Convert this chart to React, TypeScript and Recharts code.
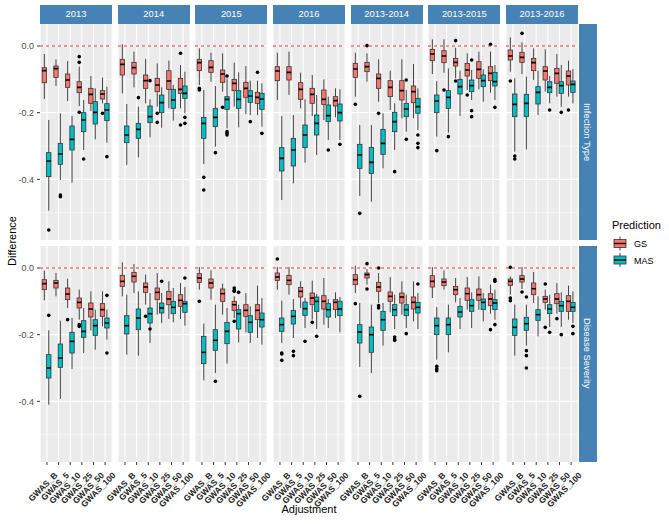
import React from 'react';
import { ComposedChart, Bar, XAxis, YAxis, CartesianGrid, ReferenceLine } from 'recharts';

// each box: [lower whisker, q1, median, q3, upper whisker]
type Box = [number, number, number, number, number];

const adjustments = ['GWAS_B', 'GWAS_5', 'GWAS_10', 'GWAS_25', 'GWAS_50', 'GWAS_100'];
const periods = ['2013', '2014', '2015', '2016', '2013-2014', '2013-2015', '2013-2016'];
const traits = ['Infection Type', 'Disease Severity'];
const yTicks = [-0.4, -0.2, 0];
const yMinor = [-0.1, -0.3, -0.5];

// ---- Infection Type ----
const itGS2013: Box[] = [[-0.159, -0.11, -0.074, -0.065, -0.024], [-0.12, -0.094, -0.068, -0.06, -0.04], [-0.165, -0.124, -0.102, -0.084, -0.045], [-0.18, -0.14, -0.124, -0.107, -0.062], [-0.195, -0.172, -0.145, -0.127, -0.09], [-0.172, -0.159, -0.144, -0.134, -0.095]];
const itGS2013Out = [[], [], [], [-0.032, -0.049, -0.199], [], [-0.202]];
const itMAS2013: Box[] = [[-0.494, -0.392, -0.345, -0.32, -0.222], [-0.402, -0.355, -0.324, -0.292, -0.202], [-0.41, -0.312, -0.28, -0.24, -0.21], [-0.312, -0.257, -0.222, -0.2, -0.162], [-0.28, -0.234, -0.199, -0.167, -0.127], [-0.29, -0.224, -0.192, -0.173, -0.122]];
const itMAS2013Out = [[-0.552], [-0.447, -0.452], [], [-0.339], [], [-0.332]];

const itGS2014: Box[] = [[-0.142, -0.087, -0.055, -0.04, 0.005], [-0.124, -0.084, -0.065, -0.049, -0.017], [-0.172, -0.127, -0.104, -0.087, -0.039], [-0.182, -0.137, -0.117, -0.097, -0.052], [-0.187, -0.13, -0.105, -0.074, -0.044], [-0.187, -0.142, -0.13, -0.097, -0.057]];
const itGS2014Out = [[], [], [], [-0.202, -0.229], [], [-0.022, -0.237]];
const itMAS2014: Box[] = [[-0.357, -0.29, -0.267, -0.24, -0.174], [-0.334, -0.277, -0.25, -0.232, -0.182], [-0.274, -0.23, -0.212, -0.18, -0.16], [-0.245, -0.2, -0.17, -0.147, -0.124], [-0.224, -0.187, -0.162, -0.13, -0.117], [-0.202, -0.157, -0.142, -0.12, -0.077]];
const itMAS2014Out = [[], [-0.155], [-0.104], [], [], [-0.214, -0.232]];

const itGS2015: Box[] = [[-0.117, -0.074, -0.05, -0.04, -0.007], [-0.107, -0.079, -0.064, -0.044, -0.02], [-0.137, -0.109, -0.084, -0.072, -0.022], [-0.182, -0.134, -0.112, -0.1, -0.05], [-0.204, -0.154, -0.127, -0.109, -0.06], [-0.207, -0.172, -0.154, -0.139, -0.104]];
const itGS2015Out = [[-0.127, -0.132], [], [-0.184], [], [], [-0.079]];
const itMAS2015: Box[] = [[-0.354, -0.277, -0.232, -0.214, -0.132], [-0.302, -0.242, -0.214, -0.187, -0.12], [-0.247, -0.19, -0.16, -0.152, -0.097], [-0.244, -0.187, -0.16, -0.134, -0.079], [-0.207, -0.169, -0.15, -0.134, -0.104], [-0.242, -0.19, -0.159, -0.142, -0.112]];
const itMAS2015Out = [[-0.394, -0.432], [-0.32], [-0.09, -0.257, -0.262, -0.267], [], [-0.227], [-0.262]];

const itGS2016: Box[] = [[-0.162, -0.104, -0.075, -0.062, -0.02], [-0.147, -0.102, -0.079, -0.062, -0.017], [-0.187, -0.16, -0.13, -0.11, -0.08], [-0.21, -0.172, -0.145, -0.127, -0.087], [-0.222, -0.175, -0.16, -0.132, -0.1], [-0.214, -0.18, -0.164, -0.152, -0.127]];
const itGS2016Out = [[], [], [], [], [], []];
const itMAS2016: Box[] = [[-0.462, -0.375, -0.337, -0.305, -0.21], [-0.412, -0.36, -0.312, -0.277, -0.207], [-0.35, -0.305, -0.267, -0.237, -0.16], [-0.327, -0.267, -0.232, -0.207, -0.147], [-0.282, -0.227, -0.209, -0.177, -0.152], [-0.282, -0.225, -0.2, -0.174, -0.13]];
const itMAS2016Out = [[], [], [], [], [-0.312], [-0.295]];

const itGS1314: Box[] = [[-0.152, -0.094, -0.069, -0.052, -0.02], [-0.107, -0.077, -0.062, -0.049, -0.022], [-0.167, -0.127, -0.097, -0.084, -0.04], [-0.192, -0.152, -0.124, -0.104, -0.074], [-0.217, -0.162, -0.134, -0.104, -0.04], [-0.217, -0.17, -0.137, -0.12, -0.054]];
const itGS1314Out = [[-0.175], [0.001], [-0.202], [], [], []];
const itMAS1314: Box[] = [[-0.45, -0.367, -0.327, -0.295, -0.237], [-0.467, -0.382, -0.349, -0.304, -0.237], [-0.367, -0.325, -0.292, -0.25, -0.202], [-0.312, -0.257, -0.227, -0.199, -0.172], [-0.257, -0.212, -0.189, -0.172, -0.132], [-0.252, -0.202, -0.182, -0.157, -0.127]];
const itMAS1314Out = [[-0.502], [], [], [-0.377], [-0.102, -0.28], [-0.267, -0.292, -0.305]];

const itGS1315: Box[] = [[-0.084, -0.044, -0.024, -0.01, 0.02], [-0.08, -0.05, -0.03, -0.014, 0.02], [-0.097, -0.06, -0.049, -0.037, -0.005], [-0.132, -0.09, -0.072, -0.052, -0.022], [-0.13, -0.097, -0.07, -0.047, -0.017], [-0.14, -0.104, -0.082, -0.062, -0.017]];
const itGS1315Out = [[], [-0.132], [0.016, -0.105], [-0.147], [], [0.005]];
const itMAS1315: Box[] = [[-0.272, -0.2, -0.165, -0.147, -0.105], [-0.26, -0.187, -0.154, -0.134, -0.067], [-0.21, -0.144, -0.122, -0.1, -0.074], [-0.162, -0.137, -0.119, -0.102, -0.072], [-0.167, -0.122, -0.104, -0.087, -0.07], [-0.162, -0.12, -0.107, -0.079, -0.057]];
const itMAS1315Out = [[-0.314], [-0.272], [], [-0.042, -0.194, -0.212], [], [-0.184]];

const itGS1316: Box[] = [[-0.077, -0.042, -0.03, -0.012, 0.026], [-0.084, -0.049, -0.034, -0.019, 0.011], [-0.102, -0.074, -0.05, -0.037, -0.007], [-0.137, -0.102, -0.075, -0.062, -0.01], [-0.152, -0.112, -0.082, -0.067, -0.024], [-0.152, -0.117, -0.09, -0.075, -0.044]];
const itGS1316Out = [[-0.105], [0.038], [], [], [], [-0.192]];
const itMAS1316: Box[] = [[-0.317, -0.212, -0.175, -0.144, -0.097], [-0.31, -0.212, -0.172, -0.145, -0.092], [-0.207, -0.174, -0.139, -0.122, -0.074], [-0.172, -0.14, -0.124, -0.107, -0.09], [-0.182, -0.142, -0.119, -0.107, -0.057], [-0.172, -0.139, -0.115, -0.105, -0.069]];
const itMAS1316Out = [[-0.33, -0.339], [], [], [-0.192], [-0.199], []];

// ---- Disease Severity ----
const dsGS2013: Box[] = [[-0.097, -0.065, -0.047, -0.035, -0.008], [-0.085, -0.06, -0.045, -0.037, -0.015], [-0.12, -0.095, -0.078, -0.06, -0.032], [-0.155, -0.12, -0.103, -0.09, -0.065], [-0.187, -0.147, -0.123, -0.105, -0.07], [-0.175, -0.145, -0.125, -0.107, -0.07]];
const dsGS2013Out = [[], [], [-0.155], [-0.17, -0.175], [], []];
const dsMAS2013: Box[] = [[-0.41, -0.33, -0.3, -0.26, -0.187], [-0.393, -0.298, -0.27, -0.228, -0.158], [-0.303, -0.255, -0.22, -0.193, -0.15], [-0.255, -0.208, -0.19, -0.158, -0.12], [-0.245, -0.202, -0.173, -0.155, -0.125], [-0.215, -0.18, -0.165, -0.15, -0.125]];
const dsMAS2013Out = [[-0.142], [], [], [], [], [-0.082, -0.255]];

const dsGS2014: Box[] = [[-0.085, -0.055, -0.04, -0.022, 0.017], [-0.075, -0.042, -0.025, -0.013, 0.012], [-0.11, -0.073, -0.057, -0.045, -0.02], [-0.14, -0.095, -0.073, -0.06, -0.015], [-0.153, -0.11, -0.093, -0.07, -0.04], [-0.153, -0.115, -0.097, -0.08, -0.045]];
const dsGS2014Out = [[], [], [-0.145], [], [], []];
const dsMAS2014: Box[] = [[-0.26, -0.198, -0.173, -0.143, -0.08], [-0.263, -0.185, -0.15, -0.123, -0.07], [-0.225, -0.165, -0.137, -0.12, -0.075], [-0.165, -0.135, -0.12, -0.105, -0.075], [-0.163, -0.137, -0.118, -0.1, -0.06], [-0.173, -0.133, -0.107, -0.1, -0.057]];
const dsMAS2014Out = [[], [], [-0.183], [-0.04], [], [-0.03]];

const dsGS2015: Box[] = [[-0.065, -0.043, -0.03, -0.017, 0.003], [-0.095, -0.06, -0.045, -0.033, -0.007], [-0.14, -0.1, -0.077, -0.063, -0.047], [-0.15, -0.127, -0.11, -0.1, -0.085], [-0.193, -0.145, -0.127, -0.11, -0.075], [-0.21, -0.155, -0.127, -0.11, -0.053]];
const dsGS2015Out = [[-0.1], [], [], [-0.06, -0.067, -0.07, -0.16], [], []];
const dsMAS2015: Box[] = [[-0.337, -0.287, -0.253, -0.205, -0.167], [-0.315, -0.247, -0.217, -0.185, -0.11], [-0.287, -0.227, -0.19, -0.163, -0.12], [-0.223, -0.183, -0.137, -0.125, -0.11], [-0.225, -0.193, -0.163, -0.143, -0.115], [-0.23, -0.177, -0.155, -0.135, -0.09]];
const dsMAS2015Out = [[], [-0.34], [], [-0.073], [], []];

const dsGS2016: Box[] = [[-0.065, -0.037, -0.027, -0.015, 0.003], [-0.08, -0.05, -0.037, -0.022, 0.003], [-0.12, -0.087, -0.07, -0.058, -0.04], [-0.155, -0.11, -0.09, -0.075, -0.038], [-0.17, -0.123, -0.1, -0.083, -0.03], [-0.15, -0.125, -0.103, -0.095, -0.073]];
const dsGS2016Out = [[0.027], [], [], [-0.163], [], []];
const dsMAS2016: Box[] = [[-0.225, -0.19, -0.17, -0.15, -0.098], [-0.21, -0.168, -0.145, -0.127, -0.093], [-0.18, -0.142, -0.122, -0.102, -0.09], [-0.183, -0.13, -0.1, -0.087, -0.078], [-0.18, -0.147, -0.125, -0.107, -0.093], [-0.193, -0.143, -0.123, -0.1, -0.087]];
const dsMAS2016Out = [[-0.255, -0.258, -0.277], [-0.25, -0.263], [-0.22], [-0.205], [], []];

const dsGS1314: Box[] = [[-0.075, -0.05, -0.035, -0.02, 0.007], [-0.05, -0.03, -0.02, -0.015, -0.003], [-0.105, -0.07, -0.057, -0.043, -0.015], [-0.133, -0.1, -0.085, -0.072, -0.027], [-0.14, -0.105, -0.087, -0.075, -0.04], [-0.16, -0.123, -0.103, -0.087, -0.04]];
const dsGS1314Out = [[-0.107], [0.013, -0.063], [0.0, -0.113, -0.12], [], [], []];
const dsMAS1314: Box[] = [[-0.297, -0.225, -0.192, -0.17, -0.105], [-0.315, -0.253, -0.2, -0.177, -0.11], [-0.233, -0.187, -0.155, -0.13, -0.105], [-0.183, -0.143, -0.125, -0.11, -0.08], [-0.18, -0.143, -0.125, -0.11, -0.08], [-0.183, -0.135, -0.118, -0.103, -0.075]];
const dsMAS1314Out = [[-0.385], [], [], [-0.207, -0.213, -0.217], [-0.197], [-0.048]];

const dsGS1315: Box[] = [[-0.09, -0.057, -0.04, -0.023, 0.003], [-0.065, -0.053, -0.042, -0.033, -0.007], [-0.103, -0.08, -0.065, -0.055, -0.03], [-0.125, -0.097, -0.077, -0.06, -0.027], [-0.125, -0.097, -0.08, -0.063, -0.025], [-0.137, -0.113, -0.093, -0.077, -0.05]];
const dsGS1315Out = [[], [], [], [], [], [-0.185]];
const dsMAS1315: Box[] = [[-0.275, -0.2, -0.173, -0.15, -0.117], [-0.253, -0.2, -0.17, -0.15, -0.11], [-0.183, -0.147, -0.132, -0.115, -0.09], [-0.18, -0.13, -0.113, -0.095, -0.073], [-0.16, -0.125, -0.103, -0.093, -0.075], [-0.155, -0.125, -0.105, -0.095, -0.065]];
const dsMAS1315Out = [[-0.295, -0.302, -0.308], [], [], [], [], [-0.035, -0.04, -0.17]];

const dsGS1316: Box[] = [[-0.08, -0.052, -0.04, -0.033, -0.025], [-0.063, -0.042, -0.033, -0.023, 0.003], [-0.105, -0.08, -0.062, -0.045, -0.012], [-0.125, -0.103, -0.093, -0.085, -0.065], [-0.137, -0.107, -0.093, -0.077, -0.045], [-0.155, -0.13, -0.1, -0.083, -0.053]];
const dsGS1316Out = [[0.002, -0.09, -0.098], [-0.072], [], [-0.048, -0.178], [-0.152], []];
const dsMAS1316: Box[] = [[-0.263, -0.202, -0.178, -0.153, -0.11], [-0.233, -0.187, -0.167, -0.148, -0.11], [-0.205, -0.157, -0.14, -0.125, -0.085], [-0.177, -0.137, -0.123, -0.11, -0.08], [-0.177, -0.13, -0.113, -0.1, -0.073], [-0.165, -0.13, -0.118, -0.103, -0.07]];
const dsMAS1316Out = [[], [-0.087, -0.248, -0.263, -0.3], [], [-0.193], [-0.2], [-0.175, -0.197]];

const gsRows = [
  [itGS2013, itGS2014, itGS2015, itGS2016, itGS1314, itGS1315, itGS1316],
  [dsGS2013, dsGS2014, dsGS2015, dsGS2016, dsGS1314, dsGS1315, dsGS1316],
];
const gsOutRows = [
  [itGS2013Out, itGS2014Out, itGS2015Out, itGS2016Out, itGS1314Out, itGS1315Out, itGS1316Out],
  [dsGS2013Out, dsGS2014Out, dsGS2015Out, dsGS2016Out, dsGS1314Out, dsGS1315Out, dsGS1316Out],
];
const masRows = [
  [itMAS2013, itMAS2014, itMAS2015, itMAS2016, itMAS1314, itMAS1315, itMAS1316],
  [dsMAS2013, dsMAS2014, dsMAS2015, dsMAS2016, dsMAS1314, dsMAS1315, dsMAS1316],
];
const masOutRows = [
  [itMAS2013Out, itMAS2014Out, itMAS2015Out, itMAS2016Out, itMAS1314Out, itMAS1315Out, itMAS1316Out],
  [dsMAS2013Out, dsMAS2014Out, dsMAS2015Out, dsMAS2016Out, dsMAS1314Out, dsMAS1315Out, dsMAS1316Out],
];

const GS_FILL = '#F8766D';
const MAS_FILL = '#00BFC4';
const STRIP = '#4682B4';
const FONT = '"Liberation Sans", Arial, sans-serif';

// panel geometry (plot areas)
const X0 = 40;
const STEP = 77.65;
const PW = 72.1;
const PH = 216;
const ROW_TOP = [24, 245.5];
const Y_AXIS_W = 40;
const X_AXIS_H = 62;
// room for the slanted labels that hang past a panel's edges
const PAD_L = 30;
const PAD_R = 22;

const makeBox = (key: 'gs' | 'mas', fill: string) => (props: any) => {
  const { x, y, width, height, payload } = props;
  const [lo, q1, med, q3, hi] = payload[key];
  const outs: number[] = payload[key + 'Out'];
  // map values through the bar's own (scaled) extent
  const py = (v: number) => y + ((hi - v) / (hi - lo)) * height;
  const cx = x + width / 2;
  return (
    <g>
      <line x1={cx} x2={cx} y1={py(hi)} y2={py(q3)} stroke="#333" strokeWidth={0.9} />
      <line x1={cx} x2={cx} y1={py(q1)} y2={py(lo)} stroke="#333" strokeWidth={0.9} />
      <rect x={x} y={py(q3)} width={width} height={py(q1) - py(q3)} fill={fill} stroke="#333" strokeWidth={0.8} />
      <line x1={x} x2={x + width} y1={py(med)} y2={py(med)} stroke="#000" strokeWidth={1.6} />
      {outs.map((o, i) => (
        <circle key={i} cx={cx} cy={py(o)} r={1.8} fill="#000" />
      ))}
    </g>
  );
};

const gsShape = makeBox('gs', GS_FILL);
const masShape = makeBox('mas', MAS_FILL);

const AdjTick = (props: any) => {
  const { x, y, payload } = props;
  const ax = x + 11;
  const ay = y + 9;
  return (
    <text x={ax} y={ay} transform={`rotate(-45 ${ax} ${ay})`} textAnchor="end" fontSize={8.5} fontWeight="bold" fill="#222" fontFamily={FONT}>
      {payload.value}
    </text>
  );
};

const Panel = ({ row, col }: { row: number; col: number }) => {
  const data = adjustments.map((adj, i) => ({
    adj,
    gs: gsRows[row][col][i],
    gsOut: gsOutRows[row][col][i],
    mas: masRows[row][col][i],
    masOut: masOutRows[row][col][i],
  }));
  const axisW = col === 0 ? Y_AXIS_W : 0;
  const axisH = row === 1 ? X_AXIS_H : 0;
  const mL = col === 0 ? 0 : PAD_L;
  const mR = PAD_R;
  return (
    <div style={{ position: 'absolute', left: X0 + col * STEP - axisW - mL, top: ROW_TOP[row] }}>
      <ComposedChart
        width={PW + axisW + mL + mR}
        height={PH + axisH}
        data={data}
        margin={{ top: 0, right: mR, bottom: 0, left: mL }}
        barGap={0}
        barSize={4.4}
      >
        <CartesianGrid fill="#EBEBEB" stroke="#FFFFFF" strokeWidth={1.1} horizontalValues={yTicks} />
        <CartesianGrid stroke="#FFFFFF" strokeWidth={0.5} vertical={false} horizontalValues={yMinor} />
        <XAxis
          dataKey="adj"
          hide={row === 0}
          height={axisH}
          interval={0}
          padding={{ left: 1.16, right: 1.16 }}
          axisLine={false}
          tickSize={3}
          tickLine={{ stroke: '#333' }}
          tick={<AdjTick />}
        />
        <YAxis
          type="number"
          domain={[-0.582, 0.066]}
          allowDataOverflow
          hide={col !== 0}
          width={axisW}
          ticks={yTicks}
          tickFormatter={(v: number) => v.toFixed(1)}
          axisLine={false}
          tickSize={3}
          tickMargin={3}
          tickLine={{ stroke: '#333' }}
          tick={{ fill: '#4D4D4D', fontSize: 9, fontFamily: FONT }}
        />
        <ReferenceLine y={0} stroke="#E8161B" strokeWidth={0.9} strokeDasharray="3 3" />
        <Bar dataKey={(d: any) => [d.gs[0], d.gs[4]]} shape={gsShape} isAnimationActive={false} />
        <Bar dataKey={(d: any) => [d.mas[0], d.mas[4]]} shape={masShape} isAnimationActive={false} />
      </ComposedChart>
    </div>
  );
};

const LegendKey = ({ y, fill, label }: { y: number; fill: string; label: string }) => (
  <g>
    <line x1={8} x2={8} y1={y - 7} y2={y + 7} stroke="#333" strokeWidth={0.9} />
    <rect x={2} y={y - 4} width={12} height={8} fill={fill} stroke="#333" strokeWidth={0.8} />
    <line x1={2} x2={14} y1={y} y2={y} stroke="#000" strokeWidth={1.4} />
    <text x={22} y={y + 3.5} fontSize={9} fill="#000" fontFamily={FONT}>{label}</text>
  </g>
);

const App: React.FC = () => {
  return (
    <div style={{ position: 'absolute', left: 0, top: 0, width: 669, height: 524, background: '#fff', fontFamily: FONT, overflow: 'hidden' }}>
      {periods.map((p, col) => (
        <div
          key={p}
          style={{ position: 'absolute', left: X0 + col * STEP, top: 5, width: PW, height: 18.5, background: STRIP, color: '#fff', fontSize: 9.4, lineHeight: '18.5px', textAlign: 'center' }}
        >
          {p}
        </div>
      ))}
      {traits.map((t, row) => (
        <div
          key={t}
          style={{ position: 'absolute', left: 578.6, top: ROW_TOP[row], width: 18, height: PH, background: STRIP, color: '#fff', fontSize: 9.4, display: 'flex', alignItems: 'center', justifyContent: 'center' }}
        >
          <span style={{ writingMode: 'vertical-rl' }}>{t}</span>
        </div>
      ))}
      {traits.map((t, row) => periods.map((p, col) => <Panel key={t + p} row={row} col={col} />))}
      <div style={{ position: 'absolute', left: 3, top: 243, width: 20, transform: 'translate(0, -50%)' }}>
        <svg width={20} height={80}>
          <text x={13} y={40} transform="rotate(-90 13 40)" textAnchor="middle" fontSize={11} fill="#000" fontFamily={FONT}>Difference</text>
        </svg>
      </div>
      <div style={{ position: 'absolute', left: X0, top: 503, width: 578 - X0, textAlign: 'center', fontSize: 11, color: '#000' }}>Adjustment</div>
      <svg style={{ position: 'absolute', left: 612, top: 215 }} width={57} height={60}>
        <text x={0} y={14} fontSize={11} fill="#000" fontFamily={FONT}>Prediction</text>
        <LegendKey y={28.5} fill={GS_FILL} label="GS" />
        <LegendKey y={45} fill={MAS_FILL} label="MAS" />
      </svg>
    </div>
  );
};

export default App;
